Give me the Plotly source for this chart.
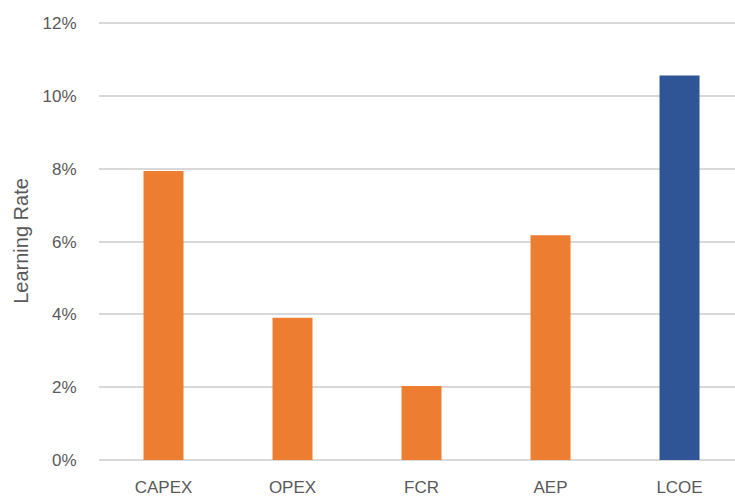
import plotly.graph_objects as go

categories = ["CAPEX", "OPEX", "FCR", "AEP", "LCOE"]
learning_rate = [7.94, 3.91, 2.03, 6.17, 10.56]
bar_colors = ["#ED7D31", "#ED7D31", "#ED7D31", "#ED7D31", "#2F5597"]
y_ticks = [0, 2, 4, 6, 8, 10, 12]
y_tick_labels = ["0%", "2%", "4%", "6%", "8%", "10%", "12%"]

fig = go.Figure(go.Bar(
    x=categories, y=learning_rate,
    marker=dict(color=bar_colors, line=dict(width=0)),
    width=0.31,
))

font_fam = "Liberation Sans, Arial, sans-serif"
fig.update_layout(
    width=735, height=498,
    margin=dict(l=99, r=0, t=22, b=38, autoexpand=False),
    plot_bgcolor="white", paper_bgcolor="white",
    showlegend=False,
    font=dict(family=font_fam, size=17, color="#595959"),
    xaxis=dict(
        range=[-0.5, 4.43],
        showgrid=False, showline=False, zeroline=False,
        ticks="outside", ticklen=12, tickcolor="white",
        tickfont=dict(size=17, color="#595959"),
    ),
    yaxis=dict(
        range=[0, 12.03],
        tickmode="array", tickvals=y_ticks, ticktext=y_tick_labels,
        showgrid=True, gridcolor="#D9D9D9", gridwidth=1.5,
        zeroline=True, zerolinecolor="#D9D9D9", zerolinewidth=1.5,
        showline=False,
        ticks="outside", ticklen=18, tickcolor="white",
        tickfont=dict(size=17, color="#595959"),
        title=dict(text="Learning Rate", font=dict(size=20, color="#595959"), standoff=8),
    ),
)

fig.write_html("out.html", config={"displayModeBar": False},
               post_script="document.body.style.margin='0';")
